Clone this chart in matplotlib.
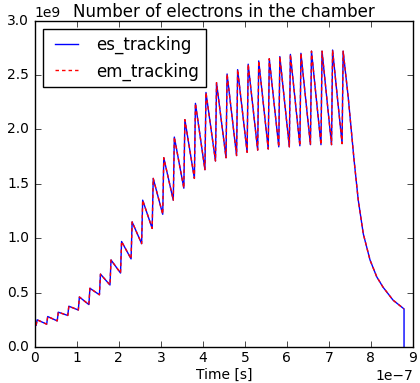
import numpy as np
import matplotlib
matplotlib.use("Agg")
import matplotlib.pyplot as plt

# bunch passages (25 ns spacing), value just before and just after each passage
bunch_spacing = 0.2512e-7
first_bunch = 0.03e-7
n_bunches = 30
trough_vals = [0.20, 0.21, 0.24, 0.29, 0.34, 0.39, 0.48, 0.57, 0.68, 0.81,
               0.95, 1.09, 1.22, 1.35, 1.46, 1.55, 1.63, 1.71, 1.74, 1.76,
               1.79, 1.81, 1.82, 1.84, 1.84, 1.85, 1.86, 1.86, 1.86, 1.87]
peak_vals = [0.25, 0.28, 0.32, 0.375, 0.46, 0.54, 0.67, 0.80, 0.97, 1.15,
             1.35, 1.55, 1.74, 1.93, 2.09, 2.24, 2.34, 2.43, 2.51, 2.55,
             2.60, 2.63, 2.65, 2.67, 2.69, 2.70, 2.72, 2.72, 2.73, 2.72]

# decay after the bunch train
tail_t = [7.46e-7, 7.60e-7, 7.70e-7, 7.82e-7, 7.98e-7, 8.14e-7, 8.29e-7, 8.53e-7, 8.79e-7]
tail_vals = [2.30, 1.72, 1.35, 1.04, 0.80, 0.645, 0.55, 0.43, 0.35]


def build_series():
    t_bunch = first_bunch + bunch_spacing * np.arange(n_bunches)
    t = []
    n = []
    for k in range(n_bunches):
        t += [t_bunch[k], t_bunch[k] + 0.025e-7]
        n += [trough_vals[k], peak_vals[k]]
    t += tail_t
    n += tail_vals
    return np.array(t), np.array(n) * 1e9


def main():
    plt.style.use("classic")
    plt.rcParams["font.size"] = 10
    plt.rcParams["xtick.major.pad"] = 3
    plt.rcParams["ytick.major.pad"] = 4
    t, n = build_series()

    fig = plt.figure(figsize=(4.2, 3.83), dpi=100)
    ax = fig.add_subplot(111)
    fig.subplots_adjust(left=0.083, right=0.983, bottom=0.094, top=0.946)

    # es_tracking drops to zero at the end, em_tracking stops before that
    ax.plot(np.append(t, t[-1]), np.append(n, 0.0), "b-", lw=1, label="es_tracking")
    ax.plot(t, n, "r--", lw=1, dashes=(2.5, 2.2), label="em_tracking")

    ax.set_xlim(0, 9e-7)
    ax.set_ylim(0, 3e9)
    ax.ticklabel_format(style="sci", scilimits=(0, 0))
    ax.set_xlabel("Time [s]", labelpad=2)
    ax.set_title("Number of electrons in the chamber", pad=3)
    ax.legend(loc="upper left")

    fig.savefig("out.png", dpi=100, facecolor="white")


if __name__ == "__main__":
    main()
